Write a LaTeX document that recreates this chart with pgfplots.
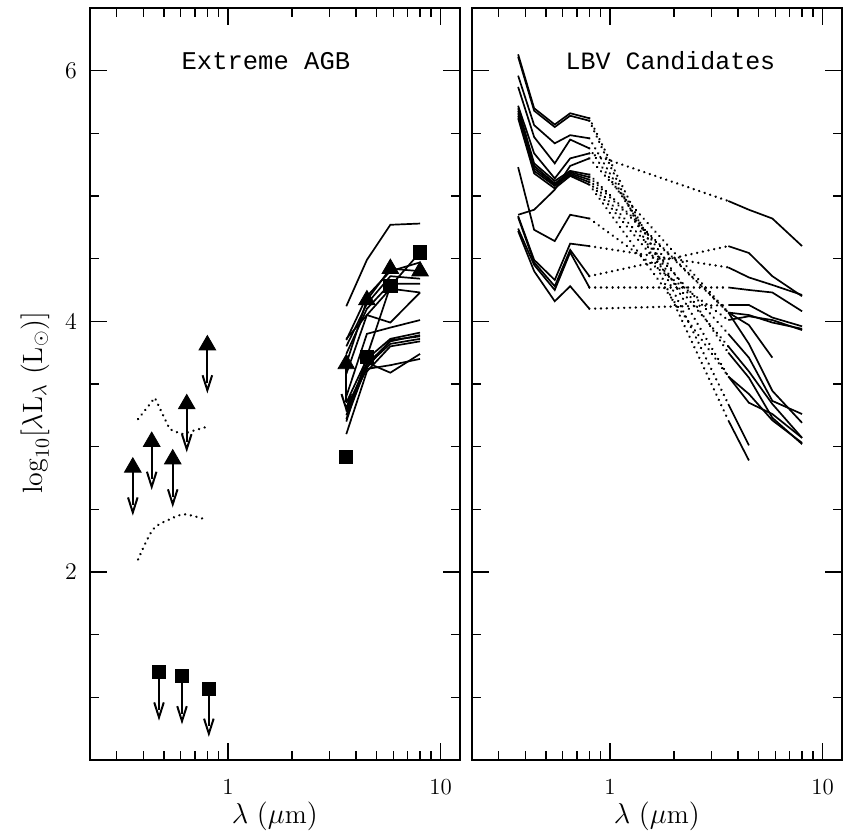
\documentclass[border=0pt]{standalone}
\usepackage{fontspec}
\newfontfamily\pgmono{Liberation Mono}
\usepackage{pgfplots}
\pgfplotsset{compat=1.18}

% open arrow head for upper limits; y error marks are turned by -90 degrees,
% so the arms are drawn towards -x to end up pointing up
\pgfdeclareplotmark{vhead}{%
  \pgfpathmoveto{\pgfpoint{-7.5pt}{-2.4pt}}%
  \pgfpathlineto{\pgfpointorigin}%
  \pgfpathlineto{\pgfpoint{-7.5pt}{2.4pt}}%
  \pgfusepathqstroke}

\pgfplotsset{
  sedline/.style={black, line width=0.85pt, no marks},
  seddot/.style={black, line width=1.3pt, dash pattern=on 0.01pt off 2.9pt, line cap=round, no marks},
  sedlim/.style={error bars/y dir=minus, error bars/y fixed=0.3, error bars/error mark=vhead,
    error bars/error bar style={black, line width=1pt}, error bars/error mark options={black, line width=1pt}},
}

\begin{document}
\begin{tikzpicture}

% ---------------- Extreme AGB ----------------
\begin{axis}[name=L, xmode=log, scale only axis, width=185.5pt, height=377pt,
    xmin=0.224, xmax=12.3, ymin=0.5, ymax=6.5,
    xtick={1,10}, xticklabels={1,10},
    minor xtick={0.3,0.4,0.5,0.6,0.7,0.8,0.9,2,3,4,5,6,7,8,9},
    ytick={2,4,6},
    minor ytick={1,1.5,2.5,3,3.5,4.5,5,5.5},
    major tick length=8.5pt, minor tick length=4.5pt,
    axis line style={line width=1.2pt},
    tick style={black, line width=0.7pt},
    tick label style={font=\fontsize{11.5}{13}\selectfont},
    xticklabel style={yshift=-6pt},
    yticklabel style={xshift=-3pt},
    xlabel={$\lambda\ (\mu\mathrm{m})$},
    xlabel style={font=\fontsize{13.5}{15}\selectfont, at={(axis description cs:0.5,0)}, anchor=center, yshift=-28pt},
    ylabel={$\mathrm{log}_{10}[\lambda\mathrm{L}_\lambda\ (\mathrm{L}_\odot)]$},
    ylabel style={font=\fontsize{14}{16}\selectfont, at={(axis description cs:-0.148,0.475)}, anchor=center},
]
\node[font=\pgmono\fontsize{12.8}{14}\selectfont] at (rel axis cs:0.476,0.93) {Extreme AGB};

% optical dotted curves
\addplot[seddot] coordinates {(0.378,3.22)(0.453,3.39)(0.532,3.14)(0.604,3.10)(0.804,3.16)};
\addplot[seddot, smooth] coordinates {(0.378,2.10)(0.444,2.34)(0.532,2.42)(0.625,2.46)(0.78,2.42)};

% IRAC SEDs
\addplot[sedline] coordinates {(3.6,4.12)(4.5,4.49)(5.8,4.77)(8.0,4.78)};
\addplot[sedline] coordinates {(3.6,3.66)(4.5,4.17)(5.8,4.42)(8.0,4.40)};
\addplot[sedline] coordinates {(3.6,3.85)(4.5,4.20)(5.8,4.40)(8.0,4.47)};
\addplot[sedline] coordinates {(3.6,3.80)(4.5,4.14)(5.8,4.36)(8.0,4.34)};
\addplot[sedline] coordinates {(3.6,3.74)(4.5,4.10)(5.8,4.30)(8.0,4.30)};
\addplot[sedline] coordinates {(3.6,3.58)(4.5,4.05)(5.8,4.26)(8.0,4.23)};
\addplot[sedline] coordinates {(3.6,3.86)(4.5,4.05)(5.8,3.99)(8.0,4.23)};
\addplot[sedline] coordinates {(3.6,3.40)(4.5,3.90)(5.8,3.95)(8.0,4.01)};
\addplot[sedline] coordinates {(3.6,3.35)(4.5,3.70)(5.8,3.86)(8.0,3.91)};
\addplot[sedline] coordinates {(3.6,3.30)(4.5,3.66)(5.8,3.84)(8.0,3.89)};
\addplot[sedline] coordinates {(3.6,3.28)(4.5,3.63)(5.8,3.85)(8.0,3.88)};
\addplot[sedline] coordinates {(3.6,3.22)(4.5,3.65)(5.8,3.82)(8.0,3.86)};
\addplot[sedline] coordinates {(3.6,3.25)(4.5,3.67)(5.8,3.59)(8.0,3.74)};
\addplot[sedline] coordinates {(3.6,3.30)(4.5,3.62)(5.8,3.65)(8.0,3.70)};
\addplot[sedline] coordinates {(3.6,3.10)(4.5,3.60)(5.8,3.80)(8.0,3.84)};
\addplot[sedline] coordinates {(3.6,3.20)(4.5,3.72)(5.8,4.28)(8.0,4.55)};

% upper limits (arrow down) and detections
\addplot[only marks, mark=triangle*, mark size=4.8pt, black, sedlim]
  coordinates {(0.357,2.835)(0.438,3.04)(0.55,2.90)(0.64,3.34)(0.80,3.81)(3.6,3.66)};
\addplot[only marks, mark=square*, mark size=3.3pt, black, sedlim]
  coordinates {(0.474,1.20)(0.608,1.17)(0.813,1.07)};
\addplot[only marks, mark=triangle*, mark size=4.8pt, black]
  coordinates {(4.5,4.17)(5.8,4.42)(8.0,4.40)};
\addplot[only marks, mark=square*, mark size=3.3pt, black]
  coordinates {(3.6,2.92)(4.5,3.715)(5.8,4.28)(8.0,4.55)};
\end{axis}

% ---------------- LBV Candidates ----------------
\begin{axis}[name=R, at={(L.south east)}, anchor=south west, xshift=6pt,
    xmode=log, scale only axis, width=185.5pt, height=377pt,
    xmin=0.224, xmax=12.3, ymin=0.5, ymax=6.5,
    xtick={1,10}, xticklabels={1,10},
    minor xtick={0.3,0.4,0.5,0.6,0.7,0.8,0.9,2,3,4,5,6,7,8,9},
    ytick={2,4,6}, yticklabels={},
    minor ytick={1,1.5,2.5,3,3.5,4.5,5,5.5},
    major tick length=8.5pt, minor tick length=4.5pt,
    axis line style={line width=1.2pt},
    tick style={black, line width=0.7pt},
    tick label style={font=\fontsize{11.5}{13}\selectfont},
    xticklabel style={yshift=-6pt},
    xlabel={$\lambda\ (\mu\mathrm{m})$},
    xlabel style={font=\fontsize{13.5}{15}\selectfont, at={(axis description cs:0.5,0)}, anchor=center, yshift=-28pt},
]
\node[font=\pgmono\fontsize{12.5}{14}\selectfont] at (rel axis cs:0.537,0.93) {LBV Candidates};

% A
\addplot[sedline] coordinates {(0.37,6.13)(0.44,5.70)(0.55,5.57)(0.65,5.66)(0.80,5.62)};
\addplot[seddot] coordinates {(0.80,5.62)(3.6,3.34)};
\addplot[sedline] coordinates {(3.6,3.34)(4.5,3.01)};
% B
\addplot[sedline] coordinates {(0.37,6.11)(0.44,5.68)(0.55,5.55)(0.65,5.64)(0.80,5.60)};
\addplot[seddot] coordinates {(0.80,5.60)(3.6,3.21)};
\addplot[sedline] coordinates {(3.6,3.21)(4.5,2.89)};
% C
\addplot[sedline] coordinates {(0.37,5.96)(0.44,5.565)(0.55,5.42)(0.65,5.485)(0.80,5.46)};
\addplot[seddot] coordinates {(0.80,5.46)(3.6,3.56)};
\addplot[sedline] coordinates {(3.6,3.56)(4.5,3.35)(5.8,3.26)(8.0,3.07)};
% D
\addplot[sedline] coordinates {(0.37,5.87)(0.44,5.47)(0.55,5.26)(0.65,5.45)(0.80,5.38)};
\addplot[seddot] coordinates {(0.80,5.38)(3.6,3.75)};
\addplot[sedline] coordinates {(3.6,3.75)(4.5,3.55)(5.8,3.23)(8.0,3.02)};
% E
\addplot[sedline] coordinates {(0.37,5.72)(0.44,5.34)(0.55,5.14)(0.65,5.30)(0.80,5.34)};
\addplot[seddot] coordinates {(0.80,5.34)(3.6,4.96)};
\addplot[sedline] coordinates {(3.6,4.96)(4.5,4.89)(5.8,4.82)(8.0,4.60)};
% F1
\addplot[sedline] coordinates {(0.37,5.70)(0.44,5.26)(0.55,5.12)(0.65,5.20)(0.80,5.17)};
\addplot[seddot] coordinates {(0.80,5.17)(3.6,4.07)};
\addplot[sedline] coordinates {(3.6,4.07)(4.5,3.97)(5.8,3.71)};
% F2
\addplot[sedline] coordinates {(0.37,5.68)(0.44,5.24)(0.55,5.10)(0.65,5.19)(0.80,5.15)};
\addplot[seddot] coordinates {(0.80,5.15)(3.6,4.07)};
\addplot[sedline] coordinates {(3.6,4.07)(4.5,3.82)(5.8,3.445)(8.0,3.19)};
% F3
\addplot[sedline] coordinates {(0.37,5.66)(0.44,5.22)(0.55,5.09)(0.65,5.18)(0.80,5.13)};
\addplot[seddot] coordinates {(0.80,5.13)(3.6,3.90)};
\addplot[sedline] coordinates {(3.6,3.90)(4.5,3.71)(5.8,3.365)(8.0,3.26)};
% F4
\addplot[sedline] coordinates {(0.37,5.64)(0.44,5.20)(0.55,5.08)(0.65,5.17)(0.80,5.11)};
\addplot[seddot] coordinates {(0.80,5.11)(3.6,3.80)};
\addplot[sedline] coordinates {(3.6,3.80)(4.5,3.60)(5.8,3.34)(8.0,3.07)};
% F5
\addplot[sedline] coordinates {(0.37,5.62)(0.44,5.18)(0.55,5.06)(0.65,5.16)(0.80,5.09)};
\addplot[seddot] coordinates {(0.80,5.09)(3.6,3.56)};
\addplot[sedline] coordinates {(3.6,3.56)(4.5,3.42)(5.8,3.21)(8.0,3.03)};
% G
\addplot[sedline] coordinates {(0.37,5.23)(0.44,4.73)(0.55,4.64)(0.65,4.85)(0.80,4.82)};
\addplot[seddot] coordinates {(0.80,4.82)(3.6,4.01)};
\addplot[sedline] coordinates {(3.6,4.01)(4.5,4.04)(5.8,4.01)(8.0,3.93)};
% H
\addplot[sedline] coordinates {(0.37,4.85)(0.44,4.89)(0.55,5.05)(0.65,5.24)(0.80,5.30)};
\addplot[seddot] coordinates {(0.80,5.30)(3.6,4.07)};
\addplot[sedline] coordinates {(3.6,4.07)(4.5,4.05)(5.8,3.99)(8.0,3.94)};
% M1
\addplot[sedline] coordinates {(0.37,4.84)(0.44,4.49)(0.55,4.33)(0.65,4.62)(0.80,4.60)};
\addplot[seddot] coordinates {(0.80,4.60)(3.6,4.43)};
\addplot[sedline] coordinates {(3.6,4.43)(4.5,4.35)(5.8,4.29)(8.0,4.21)};
% M2
\addplot[sedline] coordinates {(0.37,4.83)(0.44,4.47)(0.55,4.28)(0.65,4.57)(0.80,4.36)};
\addplot[seddot] coordinates {(0.80,4.36)(3.6,4.60)};
\addplot[sedline] coordinates {(3.6,4.60)(4.5,4.545)(5.8,4.36)(8.0,4.20)};
% M3
\addplot[sedline] coordinates {(0.37,4.74)(0.44,4.45)(0.55,4.25)(0.65,4.55)(0.80,4.27)};
\addplot[seddot] coordinates {(0.80,4.27)(3.6,4.27)};
\addplot[sedline] coordinates {(3.6,4.27)(4.5,4.25)(5.8,4.23)(8.0,4.08)};
% M4
\addplot[sedline] coordinates {(0.37,4.72)(0.44,4.40)(0.55,4.16)(0.65,4.28)(0.80,4.10)};
\addplot[seddot] coordinates {(0.80,4.10)(3.6,4.13)};
\addplot[sedline] coordinates {(3.6,4.13)(4.5,4.13)(5.8,4.03)(8.0,3.96)};
\end{axis}

\pgfresetboundingbox
\path ([shift={(-45pt,-39.5pt)}]L.south west) rectangle ([shift={(0.6pt,4pt)}]R.north east);
\end{tikzpicture}
\end{document}
